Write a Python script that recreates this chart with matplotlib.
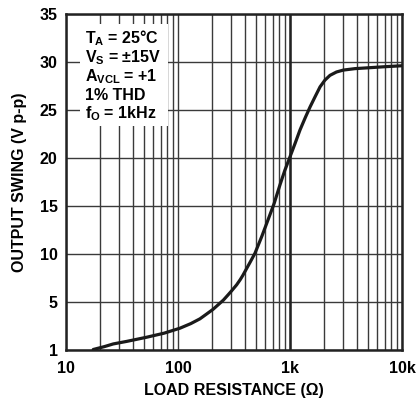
import numpy as np
import matplotlib
matplotlib.use('Agg')
import matplotlib.pyplot as plt
from matplotlib.patches import Rectangle
from matplotlib.ticker import LogLocator, NullFormatter

plt.rcParams['font.family'] = ['Liberation Sans', 'DejaVu Sans']
plt.rcParams['font.weight'] = 'bold'
plt.rcParams['mathtext.fontset'] = 'custom'
plt.rcParams['mathtext.rm'] = 'Liberation Sans:bold'
plt.rcParams['mathtext.bf'] = 'Liberation Sans:bold'
plt.rcParams['mathtext.it'] = 'Liberation Sans:bold'

# load resistance (ohm) and output swing (V p-p)
load_res = [17.5, 22, 26.4, 35, 52.5, 75, 104, 130, 157, 180, 206, 230, 254,
            280, 300, 334, 360, 380, 410, 445, 487, 560, 640, 720, 815, 900,
            1000, 1110, 1228, 1370, 1510, 1680, 1855, 2050, 2275, 2600, 2995,
            3800, 5175, 7000, 9930]
swing = [0.0, 0.3, 0.58, 0.85, 1.28, 1.7, 2.22, 2.7, 3.2, 3.7, 4.2, 4.7, 5.15,
         5.7, 6.1, 6.75, 7.3, 7.75, 8.45, 9.2, 10.05, 11.8, 13.6, 15.2, 17.2,
         18.7, 20.1, 21.5, 22.9, 24.2, 25.3, 26.4, 27.4, 28.1, 28.6, 28.95,
         29.15, 29.3, 29.4, 29.5, 29.6]

x_ticks = [10, 100, 1000, 10000]
x_labels = ['10', '100', '1k', '10k']
y_ticks = [0, 5, 10, 15, 20, 25, 30, 35]
y_labels = ['1', '5', '10', '15', '20', '25', '30', '35']

conditions = [r'$T_A$ = 25°C', r'$V_S$ = ±15V', r'$A_{VCL}$ = +1',
              '1% THD', r'$f_O$ = 1kHz']
baselines_px = [43, 62, 81, 100, 118.5]

fig = plt.figure(figsize=(4.17, 4.0), dpi=100)
ax = fig.add_axes([66 / 417, 50.5 / 400, 336 / 417, 335.5 / 400])

ax.set_xscale('log')
ax.set_xlim(10, 10000)
ax.set_ylim(0, 35)

ax.xaxis.set_minor_locator(LogLocator(base=10, subs=np.arange(2, 10)))
ax.xaxis.set_minor_formatter(NullFormatter())
ax.set_xticks(x_ticks)
ax.set_xticklabels(x_labels)
ax.set_yticks(y_ticks)
ax.set_yticklabels(y_labels)

ax.grid(True, which='both', axis='x', color='#3a3a3a', linewidth=1.0)
ax.grid(True, which='major', axis='y', color='#3a3a3a', linewidth=1.0)
ax.axvline(1000, color='#222222', linewidth=1.8)
ax.tick_params(which='both', length=0, labelsize=11.5)
ax.tick_params(axis='y', pad=6)
ax.tick_params(axis='x', pad=8)

for s in ax.spines.values():
    s.set_linewidth(1.8)
    s.set_color('#222222')

ax.plot(load_res, swing, color='#1a1a1a', linewidth=2.3, solid_capstyle='round',
        solid_joinstyle='round', zorder=3)

# white box with the test conditions
ax.add_patch(Rectangle((0.042, 0.666), 0.262, 0.304, transform=ax.transAxes,
                       facecolor='white', edgecolor='none', zorder=4))
for line, b in zip(conditions, baselines_px):
    ax.text(0.058, (349.6 - b) / 335.6, line, transform=ax.transAxes,
            fontsize=11.5, fontweight='bold', va='baseline', ha='left', zorder=5)

ax.set_xlabel('LOAD RESISTANCE (Ω)', fontsize=11.5, fontweight='bold', labelpad=5)
ax.set_ylabel('OUTPUT SWING (V p-p)', fontsize=11.5, fontweight='bold', labelpad=9)

fig.savefig('out.png', dpi=100)
